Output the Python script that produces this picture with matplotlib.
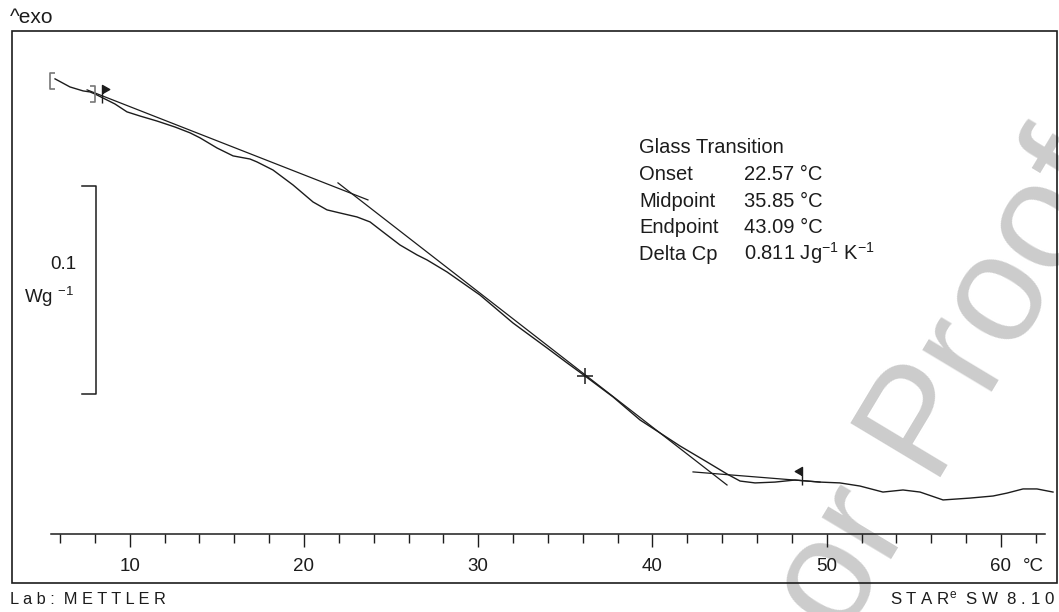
import matplotlib
matplotlib.use("Agg")
import matplotlib.pyplot as plt
import matplotlib.transforms as mtransforms
from matplotlib.path import Path
from matplotlib.patches import Rectangle
from matplotlib.ticker import FixedLocator

plt.rcParams['font.family'] = ['Liberation Sans', 'DejaVu Sans']
plt.rcParams['mathtext.default'] = 'regular'

# DSC heat flow curve: temperature (degC) and heat flow (mW/g, exo up)
temp = [5.71, 6.57, 7.32, 7.72, 8.01, 8.46, 9.15, 9.84, 10.59, 11.56,
        12.60, 13.46, 14.03, 15.01, 15.93, 16.90, 17.30, 18.22, 19.37, 20.52,
        21.32, 22.07, 23.04, 23.79, 24.53, 25.51, 26.49, 27.06, 28.21, 30.10,
        32.00, 33.95, 35.10, 36.13, 37.74, 39.29, 40.43, 41.58, 43.13, 44.28,
        45.03, 45.89, 47.03, 48.18, 49.62, 50.76, 51.91, 53.23, 54.38, 55.36,
        56.68, 58.23, 59.55, 60.35, 61.27, 62.07, 62.99]
heat_flow = [19.2, 15.3, 13.4, 12.9, 11.9, 10.0, 7.1, 3.3, 1.3, -1.1,
             -4.0, -6.8, -9.2, -14.1, -17.9, -19.4, -20.8, -24.7, -31.9, -40.1,
             -43.9, -45.4, -47.3, -49.7, -54.5, -60.8, -65.6, -68.0, -73.8, -84.9,
             -98.4, -110.4, -117.6, -123.9, -134.0, -145.1, -151.3, -157.6, -165.3, -171.1,
             -174.5, -175.4, -175.0, -174.0, -175.0, -175.4, -176.9, -179.8, -178.8, -179.8,
             -183.6, -182.7, -181.7, -180.3, -178.3, -178.3, -179.8]

# evaluation tangents
glassy_tangent_T = [7.55, 23.67]
glassy_tangent_hf = [13.9, -39.1]
step_tangent_T = [21.95, 44.28]
step_tangent_hf = [-30.9, -176.4]
rubbery_tangent_T = [42.33, 49.62]
rubbery_tangent_hf = [-170.1, -175.0]

# evaluation limits and flags
limit_T = [5.41, 8.03]
limit_hf = [18.2, 11.7]
flag_T = [8.40, 48.58]
flag_hf = [11.9, -172.1]
mid_T = 36.13
mid_hf = -123.9

major_ticks = [10, 20, 30, 40, 50, 60]
minor_ticks = list(range(6, 63, 2))

result_names = ['Onset', 'Midpoint', 'Endpoint', 'Delta Cp']
result_values = ['22.57 °C', '35.85 °C', '43.09 °C',
                 '0.811 Jg$^{-1}$ K$^{-1}$']
scale_bar = 100.0  # mW/g

ink = '#1c1c1c'
fig = plt.figure(figsize=(10.59, 6.12), dpi=100)
ax = fig.add_axes([0.01133, 0.04739, 0.98678, 0.90245])
ax.set_xlim(3.24, 63.22)
ax.set_ylim(-223.6, 42.4)

for side in ('top', 'left', 'right'):
    ax.spines[side].set_visible(False)
ax.spines['bottom'].set_position(('data', -200))
ax.spines['bottom'].set_bounds(5.5, 62.55)
ax.spines['bottom'].set_linewidth(1.1)
ax.spines['bottom'].set_color(ink)
ax.add_patch(Rectangle((0, 0), 1, 1, transform=ax.transAxes, fill=False,
                       lw=1.2, ec=ink, clip_on=False, zorder=5))
ax.set_yticks([])
ax.xaxis.set_major_locator(FixedLocator(major_ticks))
ax.xaxis.set_minor_locator(FixedLocator(minor_ticks))
ax.tick_params(axis='x', which='major', direction='out', length=9.4,
               width=1.0, pad=8, labelsize=13.5, color=ink, labelcolor=ink)
ax.tick_params(axis='x', which='minor', direction='out', length=6.5,
               width=1.0, color=ink)
unit_tr = mtransforms.offset_copy(ax.transData, fig=fig, y=-17.4, units='points')
ax.text(61.84, -200, '°C', transform=unit_tr, ha='center', va='top',
        fontsize=13.5, color=ink)

# curve and tangents
ax.plot(temp, heat_flow, color=ink, lw=1.0, zorder=3,
        solid_joinstyle='round')
for tx, ty in [(glassy_tangent_T, glassy_tangent_hf),
               (step_tangent_T, step_tangent_hf),
               (rubbery_tangent_T, rubbery_tangent_hf)]:
    ax.plot(tx, ty, color=ink, lw=0.9, zorder=3)

# markers: limits, flags, midpoint
bracket_l = Path([(0.6, 1), (0, 1), (0, -1), (0.6, -1)])
bracket_r = Path([(-0.6, 1), (0, 1), (0, -1), (-0.6, -1)])
ax.plot(limit_T[0], limit_hf[0], marker=bracket_l, ms=11, mfc='none',
        mec='#777777', mew=1.2, zorder=4)
ax.plot(limit_T[1], limit_hf[1], marker=bracket_r, ms=12, mfc='none',
        mec='#777777', mew=1.2, zorder=4)
flag_r = Path([(0, -1), (0, 1), (0.8, 0.55), (0, 0.1)])
flag_l = Path([(0, -1), (0, 1), (-0.8, 0.55), (0, 0.1)])
ax.plot(flag_T[0], flag_hf[0], marker=flag_r, ms=13, mfc=ink, mec=ink,
        mew=1.0, zorder=4)
ax.plot(flag_T[1], flag_hf[1], marker=flag_l, ms=13, mfc=ink, mec=ink,
        mew=1.0, zorder=4)
ax.plot(mid_T, mid_hf, marker='+', ms=12, mec=ink, mew=1.1, zorder=4)

# scale bar
bar_tr = mtransforms.blended_transform_factory(ax.transAxes, ax.transData)
bar_top = -32.4
ax.plot([0.0670, 0.0804, 0.0804, 0.0670],
        [bar_top, bar_top, bar_top - scale_bar, bar_top - scale_bar],
        transform=bar_tr, color=ink, lw=1.1, clip_on=False)
ax.text(0.0612, 0.5685, f'{scale_bar / 1000:.1f}', transform=ax.transAxes,
        ha='right', va='baseline', fontsize=13.5, color=ink)
ax.text(0.0115, 0.507, 'Wg $^{-1}$', transform=ax.transAxes,
        ha='left', va='baseline', fontsize=13.5, color=ink)

# result table
ax.text(0.600, 0.7786, 'Glass Transition', transform=ax.transAxes,
        va='baseline', fontsize=14.5, color=ink)
rows_y = [0.7297, 0.6813, 0.6337, 0.5848]
for name, val, yy in zip(result_names, result_values, rows_y):
    ax.text(0.600, yy, name, transform=ax.transAxes, va='baseline',
            fontsize=14.5, color=ink)
    ax.text(0.7005, yy, val, transform=ax.transAxes, va='baseline',
            fontsize=14.5, color=ink)

# watermark
ax.text(868 / 1059, 1 - 522 / 612, 'Author Proof', transform=fig.transFigure,
        rotation=59, rotation_mode='anchor', ha='center', va='center',
        fontsize=110, color='#cccccc', zorder=0.5, clip_on=False)

# header / footer
fig.text(10 / 1059, 1 - 23.3 / 612, '^exo', fontsize=15, color=ink,
         va='baseline')
fig.text(10 / 1059, 1 - 604 / 612, 'L a b :  M E T T L E R', fontsize=11.8,
         color=ink, va='baseline')
fig.text(1055 / 1059, 1 - 604 / 612, 'S T A R$^{e}$  S W  8 . 1 0',
         fontsize=12.2, color=ink, va='baseline', ha='right')

fig.savefig('out.png', dpi=100)
